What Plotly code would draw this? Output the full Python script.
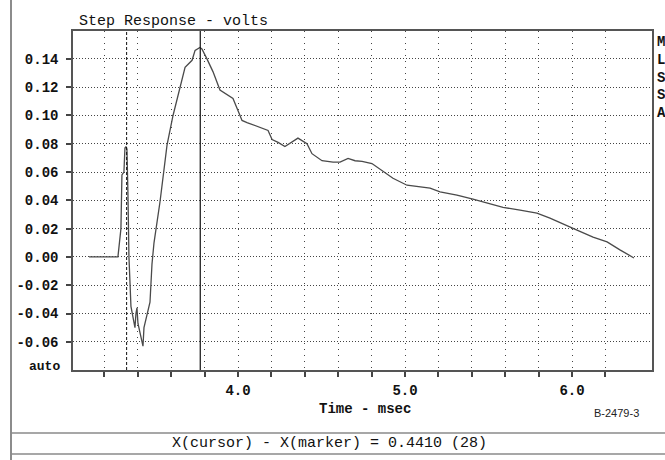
import plotly.graph_objects as go

# ---- data ----
time_ms = [3.108, 3.281, 3.299, 3.305, 3.317, 3.323, 3.329, 3.335, 3.341, 3.347,
           3.359, 3.371, 3.383, 3.389, 3.395, 3.401, 3.419, 3.431, 3.437, 3.455,
           3.473, 3.485, 3.497, 3.533, 3.575, 3.611, 3.653, 3.683, 3.725, 3.743,
           3.772, 3.784, 3.814, 3.850, 3.892, 3.934, 3.970, 4.012, 4.024, 4.054,
           4.102, 4.132, 4.180, 4.204, 4.240, 4.281, 4.323, 4.359, 4.413, 4.443,
           4.503, 4.569, 4.611, 4.659, 4.701, 4.743, 4.802, 4.862, 4.928, 5.012,
           5.150, 5.210, 5.311, 5.407, 5.509, 5.587, 5.689, 5.790, 5.868, 5.946,
           6.030, 6.126, 6.210, 6.287, 6.371]
volts = [0, 0, 0.02, 0.058, 0.060, 0.077, 0.078, 0.076, 0.045, 0.0,
         -0.035, -0.044, -0.050, -0.040, -0.036, -0.047, -0.058, -0.063, -0.050, -0.041,
         -0.032, -0.005, 0.010, 0.039, 0.079, 0.100, 0.121, 0.134, 0.139, 0.146,
         0.148, 0.147, 0.140, 0.131, 0.118, 0.115, 0.112, 0.100, 0.0965, 0.095,
         0.093, 0.0915, 0.0894, 0.083, 0.081, 0.078, 0.081, 0.084, 0.080, 0.073,
         0.068, 0.067, 0.067, 0.0697, 0.068, 0.0676, 0.066, 0.061, 0.0556, 0.0507,
         0.0486, 0.046, 0.0437, 0.0408, 0.0373, 0.035, 0.0331, 0.031, 0.0275, 0.0232,
         0.019, 0.014, 0.0106, 0.005, -0.0007]

marker_x = 3.333
cursor_x = 3.774

x_tickvals = [round(3.2 + 0.2 * i, 1) for i in range(16)]
x_labels = {4.0: "4.0", 5.0: "5.0", 6.0: "6.0"}
y_tickvals = [-0.06, -0.04, -0.02, 0.00, 0.02, 0.04, 0.06, 0.08, 0.10, 0.12, 0.14]
y_ticktext = ["-0.06", "-0.04", "-0.02", "0.00", "0.02", "0.04", "0.06", "0.08", "0.10", "0.12", "0.14"]

title_text = "Step Response - volts"
x_title = "Time - msec"
status_text = "X(cursor) - X(marker) = 0.4410 (28)"
fig_id = "B-2479-3"
side_letters = ["M", "L", "S", "S", "A"]

MONO = "Liberation Mono"

fig = go.Figure()
fig.add_trace(go.Scatter(x=time_ms, y=volts, mode="lines",
                         line=dict(color="#4a4a4a", width=1.3), showlegend=False,
                         hoverinfo="skip"))

# marker (dashed) and cursor (solid) lines
fig.add_shape(type="line", xref="x", yref="paper", x0=marker_x, x1=marker_x, y0=0, y1=1,
              line=dict(color="#111111", width=1, dash="3px,2px"))
fig.add_shape(type="line", xref="x", yref="paper", x0=cursor_x, x1=cursor_x, y0=0, y1=1,
              line=dict(color="#111111", width=1.2))

# outer frame lines (paper coordinates relative to plot area)
L, R, T, B = 73, 652, 31, 370
W, H = R - L, B - T
def px(xp):
    return (xp - L) / W
def py(yp):
    return (B - yp) / H

frame_col = "#666666"
fig.add_shape(type="line", xref="paper", yref="paper", x0=px(11), x1=px(11), y0=py(0), y1=py(460),
              line=dict(color=frame_col, width=1.5))
fig.add_shape(type="line", xref="paper", yref="paper", x0=px(11), x1=px(665), y0=py(433), y1=py(433),
              line=dict(color="#8a8a8a", width=1.5))
fig.add_shape(type="line", xref="paper", yref="paper", x0=px(11), x1=px(665), y0=py(454), y1=py(454),
              line=dict(color="#8a8a8a", width=1.5))

# texts
fig.add_annotation(xref="paper", yref="paper", x=px(77), y=py(21), text=title_text,
                   showarrow=False, xanchor="left", yanchor="middle",
                   font=dict(family=MONO, size=15, color="#111111"))
fig.add_annotation(xref="paper", yref="paper", x=px(365), y=py(409), text="<b>" + x_title + "</b>",
                   showarrow=False, xanchor="center", yanchor="middle",
                   font=dict(family=MONO, size=14, color="#111111"))
fig.add_annotation(xref="paper", yref="paper", x=px(616), y=py(413), text=fig_id,
                   showarrow=False, xanchor="center", yanchor="middle",
                   font=dict(family="Liberation Sans", size=11, color="#222222"))
fig.add_annotation(xref="paper", yref="paper", x=px(329), y=py(443), text=status_text,
                   showarrow=False, xanchor="center", yanchor="middle",
                   font=dict(family=MONO, size=15, color="#111111"))
fig.add_annotation(xref="paper", yref="paper", x=px(62), y=py(366), text="<b>auto</b>",
                   showarrow=False, xanchor="right", yanchor="middle",
                   font=dict(family=MONO, size=13, color="#111111"))
for i, ch in enumerate(side_letters):
    fig.add_annotation(xref="paper", yref="paper", x=px(661), y=py(42 + i * 17.8), text="<b>" + ch + "</b>",
                       showarrow=False, xanchor="center", yanchor="middle",
                       font=dict(family=MONO, size=14, color="#111111"))

fig.update_layout(
    width=665, height=460,
    margin=dict(l=L, r=665 - R, t=T, b=460 - B),
    paper_bgcolor="white", plot_bgcolor="white",
    xaxis=dict(range=[3.012, 6.479], tickvals=x_tickvals,
               ticktext=["<b>" + x_labels[v] + "</b>" if v in x_labels else "" for v in x_tickvals],
               showgrid=True, gridcolor="#444444", griddash="1px,5px", gridwidth=1,
               ticks="outside", ticklen=5, tickcolor="#444444", tickwidth=1.5,
               showline=True, linecolor="#555555", linewidth=1.5, mirror=True,
               zeroline=False, tickfont=dict(family=MONO, size=14, color="#111111"),
               ticklabelstandoff=1),
    yaxis=dict(range=[-0.0799, 0.1597], tickvals=y_tickvals,
               ticktext=["<b>" + t + "</b>" for t in y_ticktext],
               showgrid=True, gridcolor="#444444", griddash="1px,2px", gridwidth=1,
               ticks="outside", ticklen=5, tickcolor="#444444", tickwidth=1.5,
               showline=True, linecolor="#555555", linewidth=1.5, mirror=True,
               zeroline=False, tickfont=dict(family=MONO, size=14, color="#111111"),
               ticklabelstandoff=5),
)

fig.write_html("out.html")
